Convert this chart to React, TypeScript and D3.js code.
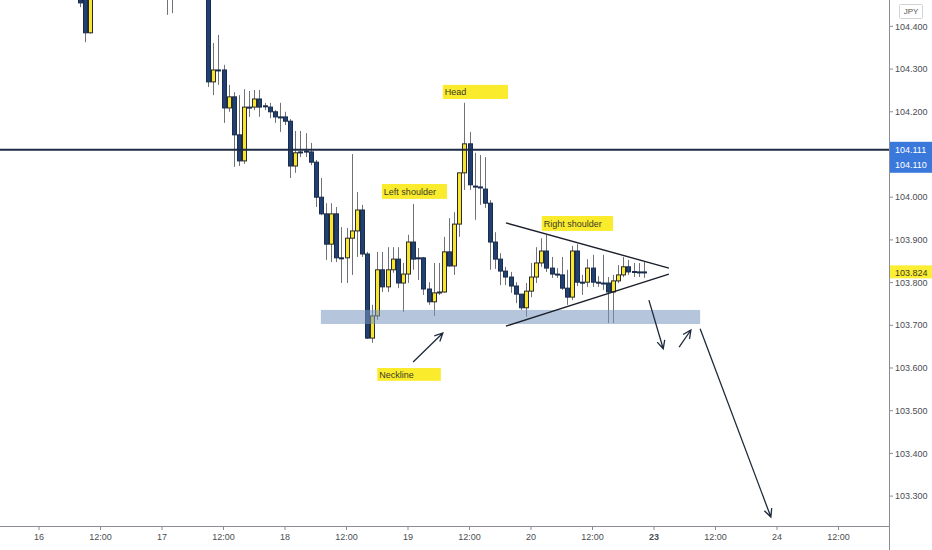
import React from 'react';
import * as d3 from 'd3';

// hourly USD/JPY candles, index 0 = day 16 00:00 (weekend removed)
const FIRST = 8;
const opens = [
  104.462, 104.470, 104.385, null, null, null, null, null, null, null, null, null, null, null, null, null, null,
  104.470, 104.480, null, null, null, null, null, null,
  104.480, 104.270, 104.298, 104.298, 104.209, 104.235, 104.146, 104.085, 104.211, 104.211,
  104.230, 104.214, 104.211, 104.200, 104.188, 104.188, 104.178, 104.073, 104.106, 104.108,
  104.106, 104.082, 104.000, 103.961, 103.890, 103.961, 103.858, 103.858, 103.904, 103.921,
  103.970, 103.867, 103.670, 103.722, 103.830, 103.790, 103.830, 103.855, 103.799, 103.820,
  103.895, 103.858, 103.858, 103.785, 103.755, 103.776, 103.778, 103.872, 103.839, 103.937,
  104.057, 104.125, 104.026, 104.024, 104.019, 103.986, 103.895, 103.855, 103.827, 103.813,
  103.792, 103.773, 103.741, 103.780, 103.813, 103.846, 103.874, 103.834, 103.820, 103.818,
  103.787, 103.766, 103.874, 103.801, 103.801, 103.834, 103.801, 103.799, 103.799, 103.778,
  103.804, 103.818, 103.837, 103.826, 103.825, 103.825,
];
const highs = [
  104.469, 104.480, 104.490, null, null, null, null, null, null, null, null, null, null, null, null, null, null,
  104.490, 104.500, null, null, null, null, null, null,
  104.490, 104.361, 104.380, 104.310, 104.263, 104.246, 104.239, 104.253, 104.249, 104.251,
  104.251, 104.221, 104.221, 104.204, 104.221, 104.200, 104.183, 104.155, 104.155, 104.150,
  104.127, 104.087, 104.045, 103.986, 103.986, 103.977, 103.930, 103.928, 104.101, 104.012,
  103.982, 103.872, 103.748, 103.872, 103.872, 103.883, 103.883, 103.883, 103.846, 103.912,
  103.984, 103.881, 103.860, 103.801, 103.846, 103.846, 103.907, 103.951, 103.965, 104.057,
  104.221, 104.153, 104.104, 104.099, 104.094, 103.993, 103.918, 103.869, 103.837, 103.825,
  103.801, 103.773, 103.799, 103.846, 103.883, 103.904, 103.912, 103.860, 103.834, 103.860,
  103.830, 103.886, 103.890, 103.818, 103.855, 103.865, 103.815, 103.865, 103.813, 103.818,
  103.841, 103.860, 103.853, 103.846, 103.846, 103.848,
];
const lows = [
  104.445, 104.363, 104.383, null, null, null, null, null, null, null, null, null, null, null, null, null, null,
  104.427, 104.431, null, null, null, null, null, null,
  104.258, 104.239, 104.263, 104.174, 104.200, 104.071, 104.073, 104.078, 104.188, 104.204,
  104.188, 104.204, 104.185, 104.174, 104.153, 104.169, 104.045, 104.057, 104.094, 104.094,
  104.075, 103.977, 103.958, 103.853, 103.848, 103.848, 103.799, 103.799, 103.818, 103.860,
  103.860, 103.668, 103.659, 103.713, 103.778, 103.778, 103.823, 103.787, 103.731, 103.799,
  103.830, 103.806, 103.771, 103.748, 103.722, 103.771, 103.776, 103.837, 103.818, 103.907,
  104.017, 104.017, 103.947, 103.982, 103.975, 103.830, 103.832, 103.794, 103.794, 103.776,
  103.752, 103.736, 103.720, 103.766, 103.799, 103.837, 103.825, 103.811, 103.811, 103.783,
  103.748, 103.759, 103.792, 103.771, 103.790, 103.790, 103.790, 103.783, 103.705, 103.705,
  103.799, 103.813, 103.818, 103.813, 103.813, 103.811,
];
const closes = [
  104.455, 104.385, 104.470, null, null, null, null, null, null, null, null, null, null, null, null, null, null,
  104.480, 104.470, null, null, null, null, null, null,
  104.270, 104.298, 104.297, 104.209, 104.235, 104.146, 104.085, 104.211, 104.210, 104.230,
  104.211, 104.213, 104.200, 104.188, 104.187, 104.178, 104.073, 104.104, 104.105, 104.107,
  104.082, 104.000, 103.961, 103.890, 103.961, 103.858, 103.857, 103.904, 103.921, 103.970,
  103.867, 103.670, 103.722, 103.830, 103.790, 103.830, 103.855, 103.799, 103.820, 103.895,
  103.855, 103.857, 103.785, 103.755, 103.776, 103.778, 103.872, 103.839, 103.937, 104.057,
  104.125, 104.029, 104.025, 104.022, 103.986, 103.895, 103.855, 103.827, 103.813, 103.792,
  103.773, 103.741, 103.780, 103.813, 103.846, 103.874, 103.834, 103.820, 103.819, 103.787,
  103.766, 103.874, 103.801, 103.800, 103.834, 103.801, 103.800, 103.798, 103.778, 103.804,
  103.818, 103.837, 103.825, 103.825, 103.824, 103.824,
];

const timeLabels = ['16', '12:00', '17', '12:00', '18', '12:00', '19', '12:00', '20', '12:00', '23', '12:00', '24', '12:00'];
// 104.100 sits under the level label, so it is not listed
const priceTicks = [103.3, 103.4, 103.5, 103.6, 103.7, 103.8, 103.9, 104.0, 104.2, 104.3, 104.4];

const levelPrice = 104.111;
const lastPrice = 103.824;

// drawings, in [hour index, price]
const necklineZone = { from: 55, to: 129, top: 103.736, bottom: 103.703 };
const triangleUpper: [number, number][] = [[91.1, 103.94], [122.9, 103.834]];
const triangleLower: [number, number][] = [[91.1, 103.698], [122.9, 103.82]];
const arrows: [number, number, number, number][] = [
  [73.0, 103.614, 78.8, 103.682],
  [119.0, 103.759, 121.8, 103.645],
  [124.9, 103.649, 127.2, 103.689],
  [129.0, 103.692, 142.8, 103.251],
];
const callouts = [
  { text: 'Head', from: 78.8, to: 91.5, top: 104.263, bottom: 104.23 },
  { text: 'Left shoulder', from: 66.9, to: 79.6, top: 104.031, bottom: 103.996 },
  { text: 'Right shoulder', from: 98.1, to: 112.0, top: 103.956, bottom: 103.921 },
  { text: 'Neckline', from: 66.0, to: 78.4, top: 103.6, bottom: 103.57 },
];

const W = 932;
const H = 550;
const plotW = 889;
const plotH = 526;

const UP = '#f7e52f';
const DOWN = '#1f4070';
const font = '"Liberation Sans", Arial, sans-serif';

export default function App() {
  const x = d3.scaleLinear().domain([-7.61, 165.85]).range([0, plotW]);
  const y = d3.scaleLinear().domain([103.23, 104.4618]).range([plotH, 0]);

  const candles = opens
    .map((o, k) => ({ i: FIRST + k, o, h: highs[k], l: lows[k], c: closes[k] }))
    .filter(d => d.o !== null) as { i: number; o: number; h: number; l: number; c: number }[];

  const line = d3.line<[number, number]>().x(d => x(d[0])).y(d => y(d[1]));

  const arrowPath = (a: [number, number, number, number]) => {
    const x1 = x(a[0]), y1 = y(a[1]), x2 = x(a[2]), y2 = y(a[3]);
    const ang = Math.atan2(y2 - y1, x2 - x1);
    const len = 9;
    const spread = 0.45;
    const p1 = [x2 - len * Math.cos(ang - spread), y2 - len * Math.sin(ang - spread)];
    const p2 = [x2 - len * Math.cos(ang + spread), y2 - len * Math.sin(ang + spread)];
    return `M${x1},${y1}L${x2},${y2}M${p1[0]},${p1[1]}L${x2},${y2}L${p2[0]},${p2[1]}`;
  };

  return (
    <svg width={W} height={H} style={{ position: 'absolute', left: 0, top: 0, background: '#fff' }}>
      <defs>
        <clipPath id="plot">
          <rect x={0} y={0} width={plotW} height={plotH} />
        </clipPath>
      </defs>
      <rect width={W} height={H} fill="#fff" />

      <g clipPath="url(#plot)">
        {/* candles */}
        {candles.map(d => {
          const cx = Math.round(x(d.i)) + 0.5;
          const up = d.c > d.o;
          const top = y(Math.max(d.o, d.c));
          const bot = y(Math.min(d.o, d.c));
          return (
            <g key={d.i}>
              <line x1={cx} x2={cx} y1={y(d.h)} y2={y(d.l)} stroke="#6f7378" strokeWidth={1} />
              <rect
                x={cx - 2}
                y={top}
                width={4}
                height={Math.max(1, bot - top)}
                fill={up ? UP : DOWN}
                stroke={up ? '#2b2b2b' : '#1a2d4d'}
                strokeWidth={1}
              />
            </g>
          );
        })}

        {/* resistance line */}
        <line x1={0} x2={plotW} y1={y(levelPrice)} y2={y(levelPrice)} stroke="#1e2b45" strokeWidth={2} />

        {/* neckline zone */}
        <rect
          x={x(necklineZone.from)}
          y={y(necklineZone.top)}
          width={x(necklineZone.to) - x(necklineZone.from)}
          height={y(necklineZone.bottom) - y(necklineZone.top)}
          fill="rgba(120,150,190,0.55)"
        />

        {/* triangle */}
        <path d={line(triangleUpper) ?? ''} stroke="#1b1f2a" strokeWidth={1.4} fill="none" />
        <path d={line(triangleLower) ?? ''} stroke="#1b1f2a" strokeWidth={1.4} fill="none" />

        {/* arrows */}
        {arrows.map((a, k) => (
          <path key={k} d={arrowPath(a)} stroke="#1e2b3c" strokeWidth={1.3} fill="none" />
        ))}

        {/* callouts */}
        {callouts.map(c => (
          <g key={c.text}>
            <rect
              x={x(c.from)}
              y={y(c.top)}
              width={x(c.to) - x(c.from)}
              height={y(c.bottom) - y(c.top)}
              fill="#faec2c"
            />
            <text
              x={x(c.from) + 2}
              y={(y(c.top) + y(c.bottom)) / 2}
              dy="0.35em"
              fontFamily={font}
              fontSize={9}
              fill="#3a3a2a"
            >
              {c.text}
            </text>
          </g>
        ))}
      </g>

      {/* price axis */}
      <line x1={plotW + 0.5} x2={plotW + 0.5} y1={0} y2={H} stroke="#8a8d93" strokeWidth={1} />
      {priceTicks.map(p => (
        <g key={p}>
          <line x1={plotW} x2={plotW + 4} y1={y(p)} y2={y(p)} stroke="#8a8d93" />
          <text x={plotW + 6} y={y(p)} dy="0.35em" fontFamily={font} fontSize={9} fill="#4a4d52">
            {p.toFixed(3)}
          </text>
        </g>
      ))}

      {/* time axis */}
      <line x1={0} x2={plotW} y1={plotH + 0.5} y2={plotH + 0.5} stroke="#8a8d93" strokeWidth={1} />
      {timeLabels.map((t, k) => {
        const tx = x(k * 12);
        return (
          <g key={k}>
            <line x1={tx} x2={tx} y1={plotH} y2={plotH + 4} stroke="#8a8d93" />
            <text
              x={tx}
              y={plotH + 14}
              textAnchor="middle"
              fontFamily={font}
              fontSize={9}
              fontWeight={t === '23' ? 700 : 400}
              fill="#4a4d52"
            >
              {t}
            </text>
          </g>
        );
      })}

      {/* currency tag */}
      <rect x={899.5} y={4.5} width={23} height={14} fill="#fff" stroke="#d0d3d8" rx={1} />
      <text x={911} y={11.5} dy="0.35em" textAnchor="middle" fontFamily={font} fontSize={8} fill="#555">
        JPY
      </text>

      {/* level label */}
      <rect x={plotW + 1} y={y(levelPrice) - 8} width={W - plotW - 1} height={31} fill="#3a78dc" />
      <text x={plotW + 6} y={y(levelPrice)} dy="0.35em" fontFamily={font} fontSize={9} fill="#fff">
        {levelPrice.toFixed(3)}
      </text>
      <text x={plotW + 6} y={y(levelPrice) + 15} dy="0.35em" fontFamily={font} fontSize={9} fill="#fff">
        {(levelPrice - 0.001).toFixed(3)}
      </text>

      {/* last price label */}
      <rect x={plotW + 1} y={y(lastPrice) - 7} width={W - plotW - 1} height={13} fill="#fbee35" />
      <text x={plotW + 6} y={y(lastPrice)} dy="0.35em" fontFamily={font} fontSize={9} fill="#3b3a20">
        {lastPrice.toFixed(3)}
      </text>
    </svg>
  );
}
